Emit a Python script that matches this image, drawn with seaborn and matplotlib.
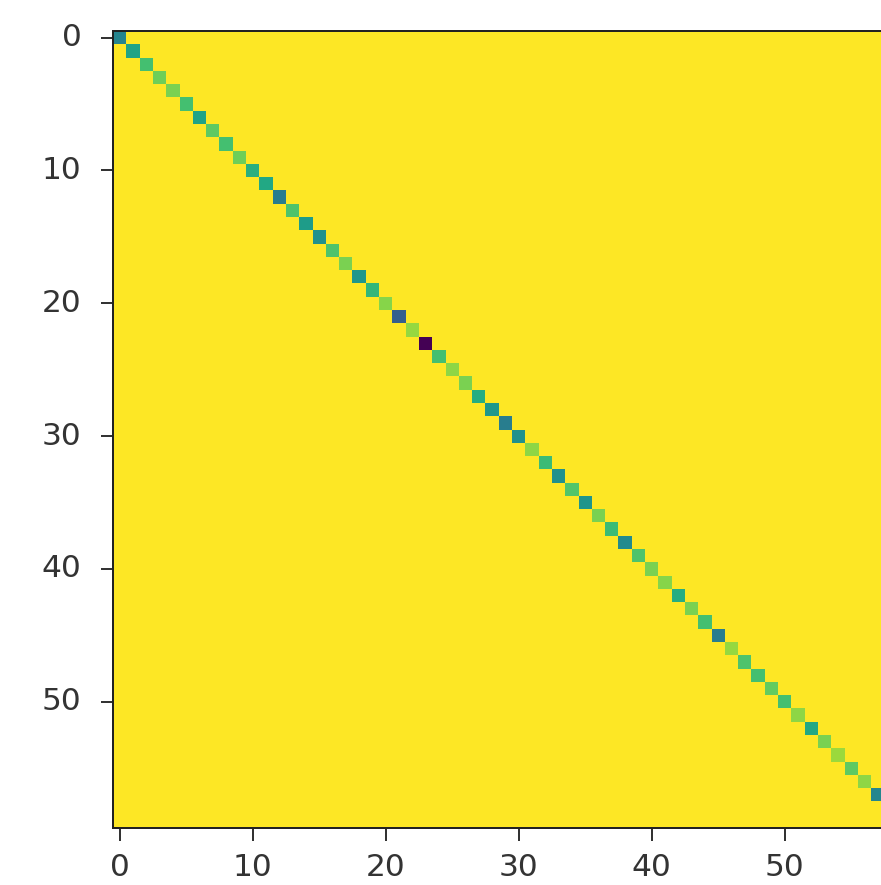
import numpy as np
import seaborn as sns
import matplotlib.pyplot as plt

# matrix size and values (off-diagonal = max, diagonal)
n = 60
off_value = 1.0
diag = [0.45, 0.58, 0.70, 0.78, 0.80, 0.70, 0.58, 0.75, 0.70, 0.78,
        0.63, 0.60, 0.42, 0.72, 0.55, 0.50, 0.72, 0.80, 0.53, 0.66,
        0.82, 0.30, 0.84, 0.00, 0.70, 0.83, 0.80, 0.62, 0.53, 0.42,
        0.50, 0.83, 0.68, 0.50, 0.73, 0.52, 0.80, 0.68, 0.48, 0.72,
        0.80, 0.82, 0.62, 0.80, 0.70, 0.42, 0.84, 0.72, 0.70, 0.76,
        0.70, 0.83, 0.60, 0.80, 0.85, 0.75, 0.83, 0.46, 0.75, 0.65]
tick_labels = [0, 10, 20, 30, 40, 50]

m = np.full((n, n), off_value)
np.fill_diagonal(m, diag)

fig = plt.figure(figsize=(881 / 180, 885 / 180), dpi=180)
# axes runs past the right edge of the figure, like the cropped reference
ax = fig.add_axes([113 / 881, 57 / 885, 798 / 881, 797 / 885])
sns.heatmap(m, cmap='viridis', cbar=False, ax=ax)

ticks = np.array(tick_labels) + 0.5
ax.set_xticks(ticks)
ax.set_xticklabels(tick_labels, rotation=0)
ax.set_yticks(ticks)
ax.set_yticklabels(tick_labels, rotation=0)
ax.tick_params(length=5, width=0.8, labelsize=12.5, colors='#333333', labelcolor='#333333')
ax.tick_params(axis='y', pad=7.5)
ax.tick_params(axis='x', pad=5)
for s in ax.spines.values():
    s.set_visible(True)
    s.set_color('#222222')
    s.set_linewidth(0.8)

fig.savefig('out.png', dpi=180)
